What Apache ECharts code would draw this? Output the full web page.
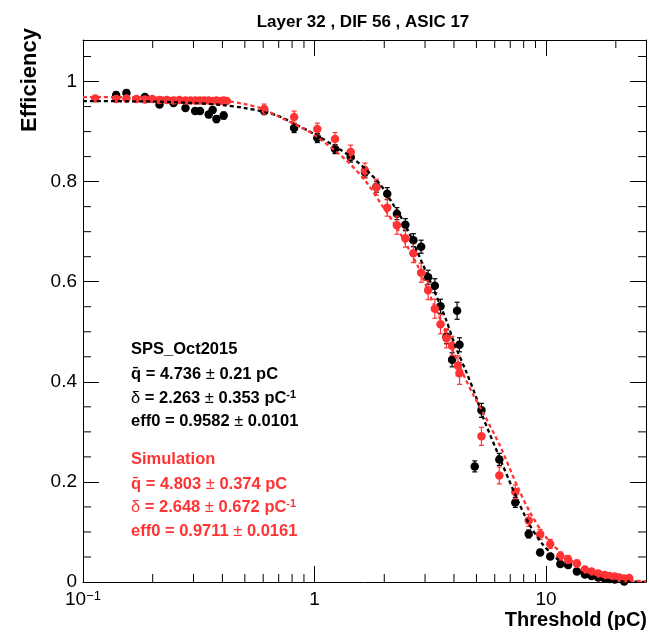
<!DOCTYPE html>
<html>
<head>
<meta charset="utf-8">
<title>Layer 32 , DIF 56 , ASIC 17</title>
<script src="https://cdn.jsdelivr.net/npm/echarts@6/dist/echarts.min.js"></script>
<style>
html, body { margin: 0; padding: 0; background: #fff; }
#main { width: 649px; height: 633px; }
</style>
</head>
<body>
<div id="main"></div>
<script>
!function () {

    'use strict';

    var FONT = '"Liberation Sans", Arial, sans-serif';
    var RED = '#ff3333';

    // SPS_Oct2015 data : threshold (pC), efficiency, error
    var dataThr = [0.139, 0.154, 0.185, 0.214, 0.246, 0.277, 0.305, 0.320, 0.349, 0.363, 0.377, 0.405,
        0.606, 0.816, 1.028, 1.226, 1.432, 1.651, 1.850, 2.060, 2.268, 2.467, 2.672, 2.886, 3.094, 3.307,
        3.499, 3.714, 3.926, 4.126, 4.226, 4.917, 5.257, 6.28, 7.36, 8.41, 9.42, 10.42, 11.52, 12.44,
        13.58, 14.70, 15.71, 16.79, 17.91, 18.78, 19.80, 21.74];
    var dataEff = [0.973, 0.977, 0.969, 0.954, 0.957, 0.947, 0.941, 0.941, 0.934, 0.943, 0.925, 0.932,
        0.941, 0.907, 0.887, 0.865, 0.849, 0.819, 0.790, 0.776, 0.736, 0.714, 0.683, 0.670, 0.609, 0.592,
        0.551, 0.490, 0.444, 0.542, 0.474, 0.231, 0.343, 0.245, 0.159, 0.096, 0.059, 0.051, 0.036, 0.034,
        0.021, 0.015, 0.012, 0.009, 0.007, 0.006, 0.005, 0.001];
    var dataErr = [0.006, 0.006, 0.005, 0.005, 0.005, 0.005, 0.005, 0.005, 0.006, 0.006, 0.007, 0.007,
        0.007, 0.009, 0.009, 0.009, 0.010, 0.010, 0.011, 0.012, 0.012, 0.012, 0.013, 0.013, 0.014, 0.014,
        0.014, 0.014, 0.014, 0.017, 0.014, 0.011, 0.014, 0.012, 0.010, 0.008, 0.006, 0.006, 0.005, 0.005,
        0.004, 0.004, 0.003, 0.003, 0.003, 0.002, 0.002, 0.002];

    // Simulation
    var simThr = [0.113, 0.139, 0.154, 0.170, 0.185, 0.199, 0.214, 0.230, 0.246, 0.261, 0.277, 0.291,
        0.305, 0.320, 0.334, 0.349, 0.363, 0.377, 0.392, 0.405, 0.418,
        0.606, 0.816, 1.028, 1.226, 1.432, 1.651, 1.850, 2.060, 2.268, 2.467, 2.672, 2.886, 3.094, 3.307,
        3.499, 3.714, 3.926, 4.16, 4.226, 5.257, 6.28, 7.36, 8.41, 9.42, 10.42, 11.52, 12.44, 13.58,
        14.70, 15.71, 16.79, 17.91, 18.78, 19.80, 20.69, 21.74, 22.84];
    var simEff = [0.966, 0.965, 0.966, 0.965, 0.964, 0.965, 0.963, 0.963, 0.962, 0.963, 0.962, 0.962,
        0.962, 0.962, 0.962, 0.962, 0.961, 0.962, 0.961, 0.962, 0.961,
        0.945, 0.929, 0.905, 0.885, 0.859, 0.822, 0.789, 0.748, 0.713, 0.687, 0.657, 0.618, 0.583, 0.546,
        0.515, 0.487, 0.472, 0.432, 0.417, 0.291, 0.213, 0.180, 0.123, 0.095, 0.076, 0.052, 0.045, 0.037,
        0.025, 0.021, 0.017, 0.014, 0.012, 0.011, 0.009, 0.007, 0.008];
    var simErr = [0.004, 0.004, 0.004, 0.004, 0.004, 0.004, 0.004, 0.004, 0.004, 0.004, 0.004, 0.004,
        0.004, 0.004, 0.004, 0.004, 0.004, 0.004, 0.004, 0.004, 0.004,
        0.010, 0.012, 0.012, 0.013, 0.014, 0.015, 0.016, 0.017, 0.018, 0.018, 0.019, 0.019, 0.019, 0.019,
        0.019, 0.019, 0.019, 0.020, 0.022, 0.018, 0.017, 0.014, 0.012, 0.010, 0.009, 0.008, 0.008, 0.007,
        0.006, 0.005, 0.005, 0.004, 0.004, 0.004, 0.004, 0.003, 0.003];

    // fitted curves
    var fitDataThr = [0.1, 0.2, 0.3, 0.4, 0.5, 0.6, 0.7, 0.8, 1.0, 1.25, 1.5, 1.9, 2.2, 2.5, 2.9, 3.3,
        3.7, 4.05, 4.5, 5.0, 5.3, 6.25, 7.4, 8.4, 9.6, 11.3, 13.4, 15.8, 18.6, 22, 27];
    var fitDataEff = [0.961, 0.960, 0.957, 0.953, 0.947, 0.940, 0.931, 0.918, 0.895, 0.868, 0.843, 0.797,
        0.752, 0.708, 0.640, 0.580, 0.524, 0.472, 0.422, 0.368, 0.333, 0.252, 0.172, 0.118, 0.077, 0.044,
        0.024, 0.011, 0.004, 0.0012, 0.0003];
    var fitSimThr = [0.1, 0.2, 0.3, 0.4, 0.5, 0.6, 0.7, 0.86, 1.0, 1.36, 1.66, 1.96, 2.24, 2.5, 2.82,
        3.12, 3.5, 3.87, 4.34, 4.87, 5.38, 6.35, 7.5, 8.55, 9.9, 11.7, 13.8, 16.3, 19.2, 23.4, 27];
    var fitSimEff = [0.969, 0.968, 0.966, 0.962, 0.955, 0.945, 0.930, 0.910, 0.893, 0.844, 0.801, 0.752,
        0.712, 0.673, 0.627, 0.577, 0.524, 0.473, 0.420, 0.372, 0.336, 0.270, 0.192, 0.138, 0.092, 0.057,
        0.034, 0.019, 0.009, 0.003, 0.001];

    // fit results shown in the text box
    var boxTitles = ['SPS_Oct2015', 'Simulation'];
    var boxQbar = [['4.736', '0.21'], ['4.803', '0.374']];
    var boxDelta = [['2.263', '0.353'], ['2.648', '0.672']];
    var boxEff0 = [['0.9582', '0.0101'], ['0.9711', '0.0161']];

    var xMinorTicks = [0.2, 0.3, 0.4, 0.5, 0.6, 0.7, 0.8, 0.9, 2, 3, 4, 5, 6, 7, 8, 9, 20];
    var yMinorTicks = [0.05, 0.1, 0.15, 0.25, 0.3, 0.35, 0.45, 0.5, 0.55, 0.65, 0.7, 0.75,
        0.85, 0.9, 0.95, 1.05];

    var X_MIN = 0.1, X_MAX = 27, Y_MIN = 0, Y_MAX = 1.083;

    function zip() {
        var cols = arguments;
        return cols[0].map(function (v, i) {
            var row = [];
            for (var k = 0; k < cols.length; k++) { row.push(cols[k][i]); }
            return row;
        });
    }

    function errorBar(color) {
        return function (params, api) {
            var x = api.value(0), y = api.value(1), e = api.value(2);
            var hi = api.coord([x, y + e]);
            var lo = api.coord([x, Math.max(y - e, 0)]);
            var w = 2.5;
            var st = { stroke: color, lineWidth: 1.2 };
            return {
                type: 'group',
                children: [
                    { type: 'line', shape: { x1: hi[0], y1: hi[1], x2: lo[0], y2: lo[1] }, style: st },
                    { type: 'line', shape: { x1: hi[0] - w, y1: hi[1], x2: hi[0] + w, y2: hi[1] }, style: st },
                    { type: 'line', shape: { x1: lo[0] - w, y1: lo[1], x2: lo[0] + w, y2: lo[1] }, style: st }
                ]
            };
        };
    }

    // minor ticks on all four sides (ROOT style)
    function xTick(params, api) {
        var x = api.value(0);
        var b = api.coord([x, Y_MIN]), t = api.coord([x, Y_MAX]);
        var st = { stroke: '#000', lineWidth: 1 };
        return {
            type: 'group',
            children: [
                { type: 'line', shape: { x1: b[0], y1: b[1], x2: b[0], y2: b[1] - 8 }, style: st },
                { type: 'line', shape: { x1: t[0], y1: t[1], x2: t[0], y2: t[1] + 8 }, style: st }
            ]
        };
    }

    function yTick(params, api) {
        var y = api.value(1);
        var l = api.coord([X_MIN, y]), r = api.coord([X_MAX, y]);
        var st = { stroke: '#000', lineWidth: 1 };
        return {
            type: 'group',
            children: [
                { type: 'line', shape: { x1: l[0], y1: l[1], x2: l[0] + 8, y2: l[1] }, style: st },
                { type: 'line', shape: { x1: r[0], y1: r[1], x2: r[0] - 8, y2: r[1] }, style: st }
            ]
        };
    }

    function fmtX(v) {
        var e = Math.round(Math.log(v) / Math.LN10);
        if (e < 0) { return '10{s|\u2212' + (-e) + '}'; }
        return String(Math.round(v));
    }

    function boxText(color) {
        return {
            b: { fontSize: 16.5, fontWeight: 'bold', fontFamily: FONT, fill: color },
            n: { fontSize: 16.5, fontWeight: 'normal', fontFamily: FONT, fill: color },
            s: { fontSize: 11, fontWeight: 'bold', fontFamily: FONT, fill: color, verticalAlign: 'top' }
        };
    }

    var graphics = [
        {
            type: 'text', x: 363, y: 22,
            style: { text: 'Layer 32 , DIF 56 , ASIC 17', fill: '#000', align: 'center', verticalAlign: 'middle',
                fontSize: 17, fontWeight: 'bold', fontFamily: FONT }
        },
        {
            type: 'text', x: 30, y: 80, rotation: Math.PI / 2,
            style: { text: 'Efficiency', fill: '#000', align: 'center', verticalAlign: 'middle',
                fontSize: 22, fontWeight: 'bold', fontFamily: FONT }
        },
        {
            type: 'text', x: 647, y: 620,
            style: { text: 'Threshold (pC)', fill: '#000', align: 'right', verticalAlign: 'middle',
                fontSize: 20, fontWeight: 'bold', fontFamily: FONT }
        }
    ];

    var boxY = [[349, 374, 398, 421], [459, 484, 507, 531]];
    var boxColor = ['#000', RED];
    for (var k = 0; k < 2; k++) {
        var lines = [
            '{b|' + boxTitles[k] + '}',
            '{b|q\u0304 = ' + boxQbar[k][0] + ' }{n|\u00b1}{b| ' + boxQbar[k][1] + ' pC}',
            '{n|\u03b4}{b| = ' + boxDelta[k][0] + ' }{n|\u00b1}{b| ' + boxDelta[k][1] + ' pC}{s|-1}',
            '{b|eff0 = ' + boxEff0[k][0] + ' }{n|\u00b1}{b| ' + boxEff0[k][1] + '}'
        ];
        for (var j = 0; j < lines.length; j++) {
            graphics.push({
                type: 'text', x: 131, y: boxY[k][j],
                style: { text: lines[j], rich: boxText(boxColor[k]), align: 'left', verticalAlign: 'middle',
                    fill: boxColor[k], fontSize: 16.5, fontWeight: 'bold', fontFamily: FONT }
            });
        }
    }

    var axisCommon = {
        axisLine: { show: true, onZero: false, lineStyle: { color: '#000', width: 1 } },
        axisTick: { show: true, inside: true, length: 16, lineStyle: { color: '#000', width: 1 } },
        splitLine: { show: false }
    };

    var option = {
        animation: false,
        backgroundColor: '#fff',
        grid: { left: 83, right: 3, top: 40, bottom: 51, outerBoundsMode: 'none' },
        xAxis: [
            echarts.util.merge({
                type: 'log', logBase: 10, min: X_MIN, max: X_MAX, position: 'bottom',
                axisLabel: {
                    margin: 8, fontSize: 19, color: '#000', fontFamily: FONT,
                    showMaxLabel: false, formatter: fmtX,
                    rich: { s: { fontSize: 13, color: '#000', fontFamily: FONT, verticalAlign: 'top' } }
                }
            }, axisCommon, true),
            echarts.util.merge({
                type: 'log', logBase: 10, min: X_MIN, max: X_MAX, position: 'top',
                axisLabel: { show: false }
            }, axisCommon, true)
        ],
        yAxis: [
            echarts.util.merge({
                type: 'value', min: Y_MIN, max: Y_MAX, interval: 0.2, position: 'left',
                axisLabel: {
                    margin: 6, fontSize: 19, color: '#000', fontFamily: FONT, showMaxLabel: false,
                    formatter: function (v) { return String(+v.toFixed(1)); }
                }
            }, axisCommon, true),
            echarts.util.merge({
                type: 'value', min: Y_MIN, max: Y_MAX, interval: 0.2, position: 'right',
                axisLabel: { show: false }
            }, axisCommon, true)
        ],
        graphic: graphics,
        series: [
            {
                name: 'xticks', type: 'custom', silent: true, renderItem: xTick,
                encode: { x: 0, y: 1 },
                data: xMinorTicks.map(function (v) { return [v, Y_MIN]; })
            },
            {
                name: 'yticks', type: 'custom', silent: true, renderItem: yTick,
                encode: { x: 0, y: 1 },
                data: yMinorTicks.map(function (v) { return [X_MIN, v]; })
            },
            {
                name: 'data err', type: 'custom', silent: true, renderItem: errorBar('#000'),
                encode: { x: 0, y: 1 }, data: zip(dataThr, dataEff, dataErr), z: 3
            },
            {
                name: 'SPS_Oct2015', type: 'scatter', symbolSize: 8.5,
                itemStyle: { color: '#000', opacity: 1 },
                data: zip(dataThr, dataEff), z: 4
            },
            {
                name: 'sim err', type: 'custom', silent: true, renderItem: errorBar(RED),
                encode: { x: 0, y: 1 }, data: zip(simThr, simEff, simErr), z: 5
            },
            {
                name: 'Simulation', type: 'scatter', symbolSize: 8.5,
                itemStyle: { color: RED, opacity: 1 },
                data: zip(simThr, simEff), z: 6
            },
            {
                name: 'fit data', type: 'line', smooth: 0.3, showSymbol: false, symbol: 'none',
                lineStyle: { color: '#000', width: 2.3, type: [4, 3] },
                data: zip(fitDataThr, fitDataEff), z: 7
            },
            {
                name: 'fit sim', type: 'line', smooth: 0.3, showSymbol: false, symbol: 'none',
                lineStyle: { color: RED, width: 2.3, type: [4, 3] },
                data: zip(fitSimThr, fitSimEff), z: 8
            }
        ]
    };

    var chart = echarts.init(document.getElementById('main'), null, { renderer: 'canvas' });
    chart.setOption(option);
}();
</script>
</body>
</html>
